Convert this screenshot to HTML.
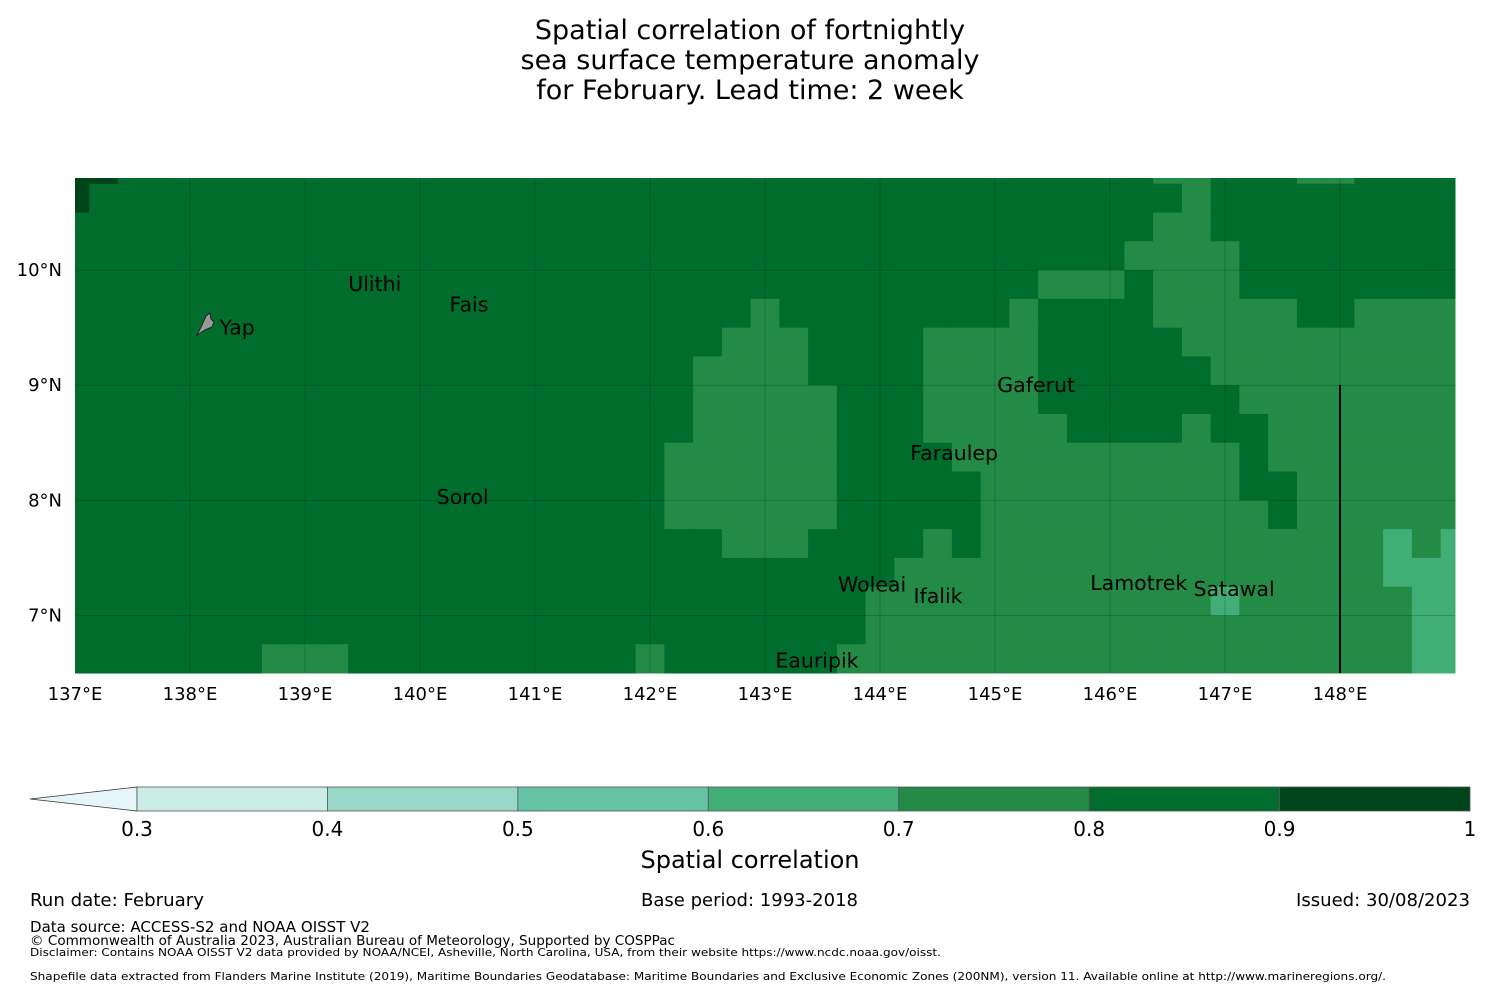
<!DOCTYPE html>
<html><head><meta charset="utf-8">
<style>
html,body{margin:0;padding:0;background:#fff;}
svg{display:block;font-family:"DejaVu Sans","Liberation Sans",sans-serif;}
</style></head>
<body>
<svg id="chart" width="1500" height="990" viewBox="0 0 1500 990" xmlns="http://www.w3.org/2000/svg">
<rect width="1500" height="990" fill="#fff"/>
<g font-size="27" text-anchor="middle" fill="#000">
<text x="750" y="39">Spatial correlation of fortnightly</text>
<text x="750" y="69">sea surface temperature anomaly</text>
<text x="750" y="99">for February. Lead time: 2 week</text>
</g>
<g id="cells"></g>
<g id="grid"></g>
<line x1="1340" y1="385" x2="1340" y2="673" stroke="#000" stroke-width="2"/>
<path d="M197,335 L202,325 L206,316 L210,313 L211,319 L214,322 L212,327 L205,330 Z" fill="#999" stroke="#222" stroke-width="1"/>
<g id="labels" font-size="20.5" fill="#000"></g>
<g id="axes" font-size="18" fill="#000"></g>
<g id="cbar"></g>
<text x="750" y="868" font-size="24" text-anchor="middle">Spatial correlation</text>
<g font-size="18" fill="#000">
<text x="30" y="906" textLength="174" lengthAdjust="spacingAndGlyphs">Run date: February</text>
<text x="641" y="906" textLength="217" lengthAdjust="spacingAndGlyphs">Base period: 1993-2018</text>
<text x="1296" y="906" textLength="174" lengthAdjust="spacingAndGlyphs">Issued: 30/08/2023</text>
<text x="30" y="932" font-size="15" textLength="340" lengthAdjust="spacingAndGlyphs">Data source: ACCESS-S2 and NOAA OISST V2</text>
<text x="30" y="945" font-size="13" textLength="645" lengthAdjust="spacingAndGlyphs">© Commonwealth of Australia 2023, Australian Bureau of Meteorology, Supported by COSPPac</text>
<text x="30" y="956" font-size="11" textLength="911" lengthAdjust="spacingAndGlyphs">Disclaimer: Contains NOAA OISST V2 data provided by NOAA/NCEI, Asheville, North Carolina, USA, from their website https://www.ncdc.noaa.gov/oisst.</text>
<text x="30" y="980" font-size="11" textLength="1356" lengthAdjust="spacingAndGlyphs">Shapefile data extracted from Flanders Marine Institute (2019), Maritime Boundaries Geodatabase: Maritime Boundaries and Exclusive Economic Zones (200NM), version 11. Available online at http://www.marineregions.org/.</text>
</g>
</svg>
<script>
// Grid rows (north to south), run-length encoded correlation class: "levelxcount"
const rowRuns = [
"9x2,8x36,7x2,8x3,7x2,8x4",
"9x1,8x38,7x1,8x9",
"8x38,7x2,8x9",
"8x37,7x4,8x8",
"8x34,7x3,8x1,7x3,8x8",
"8x24,7x1,8x8,7x1,8x4,7x5,8x2,7x4",
"8x23,7x3,8x4,7x4,8x5,7x10",
"8x22,7x4,8x4,7x4,8x6,7x9",
"8x22,7x5,8x3,7x4,8x7,7x8",
"8x22,7x5,8x3,7x5,8x4,7x1,8x2,7x7",
"8x21,7x6,8x4,7x10,8x1,7x7",
"8x21,7x6,8x5,7x9,8x2,7x6",
"8x21,7x6,8x5,7x10,8x1,7x6",
"8x23,7x3,8x4,7x1,8x1,7x14,6x1,7x1,6x1",
"8x29,7x17,6x3",
"8x28,7x12,6x1,7x6,6x2",
"8x28,7x19,6x2",
"8x7,7x3,8x10,7x1,8x6,7x20,6x2"
];
const classValues = {"9":0.95,"8":0.85,"7":0.75,"6":0.65};
const lonTicks = [137,138,139,140,141,142,143,144,145,146,147,148];
const latTicks = [10,9,8,7];
const cbarBounds = [0.3,0.4,0.5,0.6,0.7,0.8,0.9,1.0];
const cbarColors = ["#ccece6","#99d8c9","#66c2a4","#41ae76","#238b45","#006d2c","#00441b"];
const islandNames = ["Ulithi","Fais","Yap","Gaferut","Faraulep","Sorol","Woleai","Ifalik","Lamotrek","Satawal","Eauripik"];
const islandLon = [139.5,140.55,138.25,145.35,144.65,140.37,143.8,144.5,146.2,147.0,143.4];
const islandLat = [9.85,9.67,9.47,8.97,8.38,8.0,7.24,7.14,7.25,7.2,6.58];
const islandDx = [-0.124,-0.293,0.007,-0.33,-0.387,-0.224,-0.165,-0.209,-0.372,-0.274,-0.31];

const NS="http://www.w3.org/2000/svg";
const X0=75,X1=1455,Y0=178,Y1=673,LON0=137,LON1=149,LAT0=6.5,LAT1=10.8;
function xs(lon){return X0+(lon-LON0)/(LON1-LON0)*(X1-X0);}
function ys(lat){return Y0+(LAT1-lat)/(LAT1-LAT0)*(Y1-Y0);}
function colorFor(v){for(let i=0;i<cbarColors.length;i++){if(v>=cbarBounds[i]&&v<cbarBounds[i+1])return cbarColors[i];}return v>=1?cbarColors[6]:"#e5f5f9";}
function el(t,a,p){const e=document.createElementNS(NS,t);for(const k in a)e.setAttribute(k,a[k]);p.appendChild(e);return e;}

const cells=document.getElementById('cells');
rowRuns.forEach((s,r)=>{
  const latTop=Math.min(LAT1,10.75-(r-1)*0.25), latBot=10.75-r*0.25;
  let c=0;
  s.split(',').forEach(run=>{
    const [lv,n]=run.split('x');
    for(let k=0;k<+n;k++,c++){
      const lonL=Math.max(LON0,137+0.25*c-0.125), lonR=Math.min(LON1,137+0.25*c+0.125);
      const v=classValues[lv];
      const rc=el('rect',{x:xs(lonL),y:ys(latTop),width:xs(lonR)-xs(lonL)+0.5,height:ys(latBot)-ys(latTop)+0.5,fill:colorFor(v)},cells);
      
      
    }
  });
});

const grid=document.getElementById('grid');
lonTicks.forEach(l=>{if(l>LON0){const g=el('line',{x1:xs(l),x2:xs(l),y1:Y0,y2:Y1,stroke:"#000","stroke-opacity":0.18,"stroke-width":1},grid);}});
latTicks.forEach(l=>{const g=el('line',{x1:X0,x2:X1,y1:ys(l),y2:ys(l),stroke:"#000","stroke-opacity":0.18,"stroke-width":1},grid);});

const axes=document.getElementById('axes');
lonTicks.forEach(l=>{const t=el('text',{x:xs(l),y:700,"text-anchor":"middle"},axes);t.textContent=l+"°E";});
latTicks.forEach(l=>{const t=el('text',{x:62,y:ys(l)+6,"text-anchor":"end"},axes);t.textContent=l+"°N";});

const labels=document.getElementById('labels');
islandNames.forEach((n,i)=>{const t=el('text',{x:xs(islandLon[i]+islandDx[i]),y:ys(islandLat[i])+3.5},labels);t.textContent=n;});

const cbar=document.getElementById('cbar');
const CX0=137,CX1=1470,CY0=787,CY1=811;
function cx(v){return CX0+(v-0.3)/(1-0.3)*(CX1-CX0);}
const tri=el('polygon',{points:`30,799 ${CX0},${CY0} ${CX0},${CY1}`,fill:"#e5f5f9",stroke:"#333","stroke-width":0.8},cbar);


cbarColors.forEach((c,i)=>{const r=el('rect',{x:cx(cbarBounds[i]),y:CY0,width:cx(cbarBounds[i+1])-cx(cbarBounds[i]),height:CY1-CY0,fill:c,stroke:"#555","stroke-width":0.8},cbar);});
cbarBounds.forEach(v=>{const t=el('text',{x:cx(v),y:836,"text-anchor":"middle","font-size":20},cbar);t.textContent=(v===1?"1":v.toFixed(1));});
</script>
</body></html>
